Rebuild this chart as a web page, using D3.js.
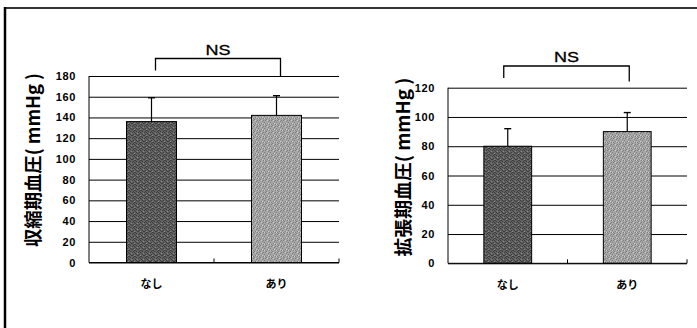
<!DOCTYPE html>
<html>
<head>
<meta charset="utf-8">
<script src="https://cdn.jsdelivr.net/npm/d3@7"></script>
<style>
  html, body { margin: 0; padding: 0; background: #fff; }
  svg { display: block; }
</style>
</head>
<body>
<script>
// Blood pressure by group (mean ± SD)
const categories = ["なし", "あり"];
const systolicMean = [136, 142];
const systolicSD = [23, 19];
const diastolicMean = [80, 90];
const diastolicSD = [12, 13];
const systolicTicks = [0, 20, 40, 60, 80, 100, 120, 140, 160, 180];
const diastolicTicks = [0, 20, 40, 60, 80, 100, 120];
const systolicTitle = "収縮期血圧( mmHg )";
const diastolicTitle = "拡張期血圧( mmHg )";
const sigLabel = "NS";

const W = 697, H = 328;
const svg = d3.select("body").append("svg").attr("width", W).attr("height", H);

// halftone-like fills for the two groups
const defs = svg.append("defs");
const dotsDark = [[0, 0], [2, 0], [3, 1], [1, 2], [4, 2], [0, 3], [2, 4], [3, 4], [1, 5], [4, 5], [5, 3]];
const dotsLight = [[1, 0], [4, 1], [0, 2], [3, 3], [5, 4], [2, 5], [5, 0], [1, 4]];
function halftone(id, base, dots, dotColor, hiDots, hiColor) {
  const p = defs.append("pattern").attr("id", id).attr("width", 6).attr("height", 6)
    .attr("patternUnits", "userSpaceOnUse");
  p.append("rect").attr("width", 6).attr("height", 6).attr("fill", base);
  dots.forEach(([x, y]) =>
    p.append("rect").attr("x", x).attr("y", y).attr("width", 1).attr("height", 1).attr("fill", dotColor));
  hiDots.forEach(([x, y]) =>
    p.append("rect").attr("x", x).attr("y", y).attr("width", 1).attr("height", 1).attr("fill", hiColor));
}
halftone("fillDark", "#626262", dotsDark, "#3c3c3c", [[5, 1], [2, 3]], "#8a8a8a");
halftone("fillLight", "#a6a6a6", dotsLight, "#7e7e7e", [[3, 0], [0, 4], [4, 3]], "#cecece");
const fills = ["url(#fillDark)", "url(#fillLight)"];

// page frame
svg.append("line").attr("x1", 4).attr("x2", W).attr("y1", 8).attr("y2", 8)
  .attr("stroke", "#333").attr("stroke-width", 2);
svg.append("line").attr("x1", 5).attr("x2", 5).attr("y1", 7).attr("y2", H)
  .attr("stroke", "#000").attr("stroke-width", 2.5);

const numFont = "'Liberation Sans', Arial, sans-serif";
const jpFont = "'Noto Sans CJK JP', sans-serif";

function drawChart(cfg) {
  const g = svg.append("g");
  const x = d3.scaleBand().domain(categories).range([cfg.left, cfg.right]).padding(0);
  const y = d3.scaleLinear().domain([0, d3.max(cfg.ticks)]).range([cfg.bottom, cfg.top]);

  // horizontal grid
  const yAxis = d3.axisLeft(y).tickValues(cfg.ticks).tickSize(-(cfg.right - cfg.left)).tickFormat(d3.format("d")).tickPadding(13);
  const ya = g.append("g").attr("transform", `translate(${cfg.left},0)`).call(yAxis);
  ya.select(".domain").remove();
  ya.selectAll(".tick line").attr("stroke", "#000").attr("stroke-width", 1);
  ya.selectAll(".tick text").attr("font-family", numFont).attr("font-weight", "bold")
    .attr("font-size", 11).attr("letter-spacing", 0.6).attr("fill", "#000");

  // left axis line
  g.append("line").attr("x1", cfg.left).attr("x2", cfg.left).attr("y1", y.range()[1]).attr("y2", y.range()[0])
    .attr("stroke", "#000").attr("stroke-width", 1);

  const bw = x.bandwidth() * 0.4;
  const cx = d => x(d) + x.bandwidth() / 2;

  // bars
  g.selectAll("rect.bar").data(categories).join("rect").attr("class", "bar")
    .attr("x", d => cx(d) - bw / 2).attr("width", bw)
    .attr("y", (d, i) => y(cfg.mean[i])).attr("height", (d, i) => y(0) - y(cfg.mean[i]))
    .attr("fill", (d, i) => fills[i]).attr("stroke", "#000").attr("stroke-width", 1);

  // error bars (upper only)
  categories.forEach((c, i) => {
    const top = y(cfg.mean[i] + cfg.sd[i]);
    g.append("line").attr("x1", cx(c)).attr("x2", cx(c)).attr("y1", y(cfg.mean[i])).attr("y2", top)
      .attr("stroke", "#000").attr("stroke-width", 1.2);
    g.append("line").attr("x1", cx(c) - 3.5).attr("x2", cx(c) + 3.5).attr("y1", top).attr("y2", top)
      .attr("stroke", "#000").attr("stroke-width", 1.4);
  });

  // category axis with inward ticks at band edges
  const xAxis = d3.axisBottom(x).tickSize(0).tickPadding(18);
  const xa = g.append("g").attr("transform", `translate(0,${cfg.bottom})`).call(xAxis);
  xa.select(".domain").attr("stroke", "#000").attr("d", `M${cfg.left},0H${cfg.right}`);
  xa.selectAll(".tick text").attr("font-family", jpFont).attr("font-weight", "bold")
    .attr("font-size", 11).attr("fill", "#000");
  categories.forEach(c => {
    const xe = x(c) + x.bandwidth();
    g.append("line").attr("x1", xe).attr("x2", xe).attr("y1", cfg.bottom).attr("y2", cfg.bottom - 4)
      .attr("stroke", "#000").attr("stroke-width", 1);
  });

  // y title
  g.append("text").attr("transform", `translate(${cfg.titleX},${cfg.titleY}) rotate(-90)`)
    .attr("text-anchor", "middle").attr("dominant-baseline", "central")
    .attr("font-family", jpFont).attr("font-weight", "bold").attr("font-size", 18.5)
    .attr("textLength", cfg.titleLen).attr("lengthAdjust", "spacingAndGlyphs")
    .text(cfg.title);

  // significance bracket
  const bx1 = cx(categories[0]) + cfg.bracketDx[0], bx2 = cx(categories[1]) + cfg.bracketDx[1];
  g.append("path")
    .attr("d", `M${bx1},${cfg.bracketY + cfg.legs[0]}V${cfg.bracketY}H${bx2}V${cfg.bracketY + cfg.legs[1]}`)
    .attr("fill", "none").attr("stroke", "#000").attr("stroke-width", 1.3);
  g.append("text").attr("x", (bx1 + bx2) / 2).attr("y", cfg.bracketY - 4)
    .attr("text-anchor", "middle").attr("font-family", numFont).attr("font-size", 14)
    .attr("stroke", "#000").attr("stroke-width", 0.3)
    .attr("textLength", 25).attr("lengthAdjust", "spacingAndGlyphs")
    .text(sigLabel);
}

drawChart({
  left: 89, right: 339, top: 76, bottom: 262.5,
  ticks: systolicTicks, mean: systolicMean, sd: systolicSD,
  title: systolicTitle, titleX: 32, titleY: 160, titleLen: 174,
  bracketY: 58.5, bracketDx: [4, 4], legs: [12, 17.5]
});

drawChart({
  left: 448, right: 687, top: 87.7, bottom: 263.3,
  ticks: diastolicTicks, mean: diastolicMean, sd: diastolicSD,
  title: diastolicTitle, titleX: 402, titleY: 167, titleLen: 179,
  bracketY: 66, bracketDx: [-4, 2], legs: [12, 15.5]
});
</script>
</body>
</html>
